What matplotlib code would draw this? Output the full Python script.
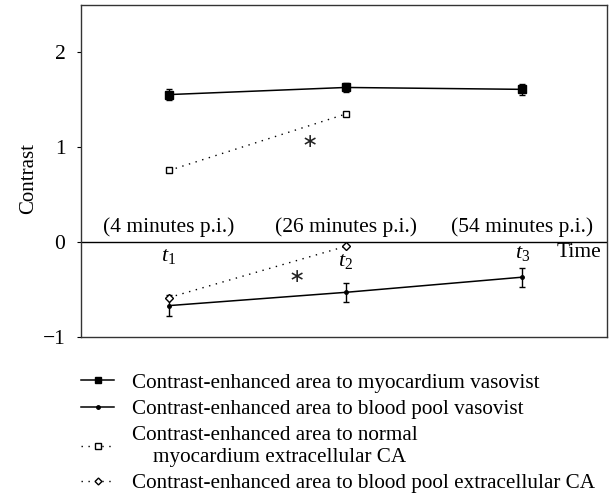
import matplotlib
matplotlib.use('Agg')
import matplotlib.pyplot as plt
from matplotlib.lines import Line2D

plt.rcParams['font.family'] = ['Liberation Serif', 'DejaVu Serif']
plt.rcParams['mathtext.fontset'] = 'custom'
plt.rcParams['mathtext.it'] = 'Liberation Serif:italic'
plt.rcParams['mathtext.rm'] = 'Liberation Serif'

# time points
t = [1, 2, 3]
t_labels = [r'$t_1$', r'$t_2$', r'$t_3$']
t_label_y = [-0.15, -0.21, -0.12]
pi_labels = ['(4 minutes p.i.)', '(26 minutes p.i.)', '(54 minutes p.i.)']

# series
myo_vaso = [1.555, 1.63, 1.61]
myo_vaso_err = [0.06, 0.05, 0.06]
pool_vaso = [-0.67, -0.53, -0.37]
pool_vaso_err = [0.11, 0.10, 0.10]
myo_ecca = [0.755, 1.35]
pool_ecca = [-0.585, -0.045]

star_x = [1.795, 1.72]
star_y = [1.06, -0.36]

labels = ['Contrast-enhanced area to myocardium vasovist',
          'Contrast-enhanced area to blood pool vasovist',
          'Contrast-enhanced area to normal\n    myocardium extracellular CA',
          'Contrast-enhanced area to blood pool extracellular CA']

fig = plt.figure(figsize=(6.11, 4.94), dpi=100)
ax = fig.add_axes([0.132, 0.318, 0.862, 0.672])

dot = (0, (1, 4))
ax.errorbar(t, myo_vaso, myo_vaso_err, color='k', marker='s', ms=6, lw=1.1,
            capsize=2.5, elinewidth=1, zorder=3)
ax.errorbar(t, pool_vaso, pool_vaso_err, color='k', marker='o', ms=2.5, lw=1.1,
            capsize=2.5, elinewidth=1, zorder=3)
ax.plot(t[:2], myo_ecca, color='k', ls=dot, lw=1, marker='s', ms=5,
        mfc='white', mec='k', mew=1, zorder=4)
ax.plot(t[:2], pool_ecca, color='k', ls=dot, lw=1, marker='D', ms=4,
        mfc='white', mec='k', mew=1, zorder=4)

for x, y in zip(star_x, star_y):
    ax.text(x, y, '\u2217', fontsize=14, ha='center', va='center',
            family=['DejaVu Sans'], color='#222222')

ax.axhline(0, color='k', lw=1)
for x, lab, ly, pl in zip(t, t_labels, t_label_y, pi_labels):
    ax.text(x, ly, lab, fontsize=16, ha='center', va='center')
    ax.text(x, 0.16, pl, fontsize=15.5, ha='center', va='center')
ax.text(3.32, -0.105, 'Time', fontsize=15.5, ha='center', va='center')

ax.set_xlim(0.5, 3.48)
ax.set_ylim(-1, 2.5)
ax.set_xticks([])
ax.set_yticks([-1, 0, 1, 2])
ax.set_yticklabels(['\u22121', '0', '1', '2'])
ax.tick_params(axis='y', direction='out', length=3, labelsize=15.5, pad=8)
for s in ax.spines.values():
    s.set_color('#333333')
    s.set_linewidth(1)
ax.set_ylabel('Contrast', fontsize=15)
ax.yaxis.set_label_coords(-0.081, 0.478)

handles = [
    Line2D([], [], color='k', marker='s', ms=5, lw=1.1),
    Line2D([], [], color='k', marker='o', ms=2.5, lw=1.1),
    Line2D([], [], color='k', ls=dot, lw=1, marker='s', ms=4.5, mfc='white'),
    Line2D([], [], color='k', ls=dot, lw=1, marker='D', ms=3.5, mfc='white'),
]
fig.legend(handles, labels, loc='upper left', bbox_to_anchor=(0.133, 0.245),
           frameon=False, fontsize=15.2, handlelength=1.55, handletextpad=0.85,
           labelspacing=0.32, borderaxespad=0, borderpad=0)

fig.savefig('out.png', dpi=100)
